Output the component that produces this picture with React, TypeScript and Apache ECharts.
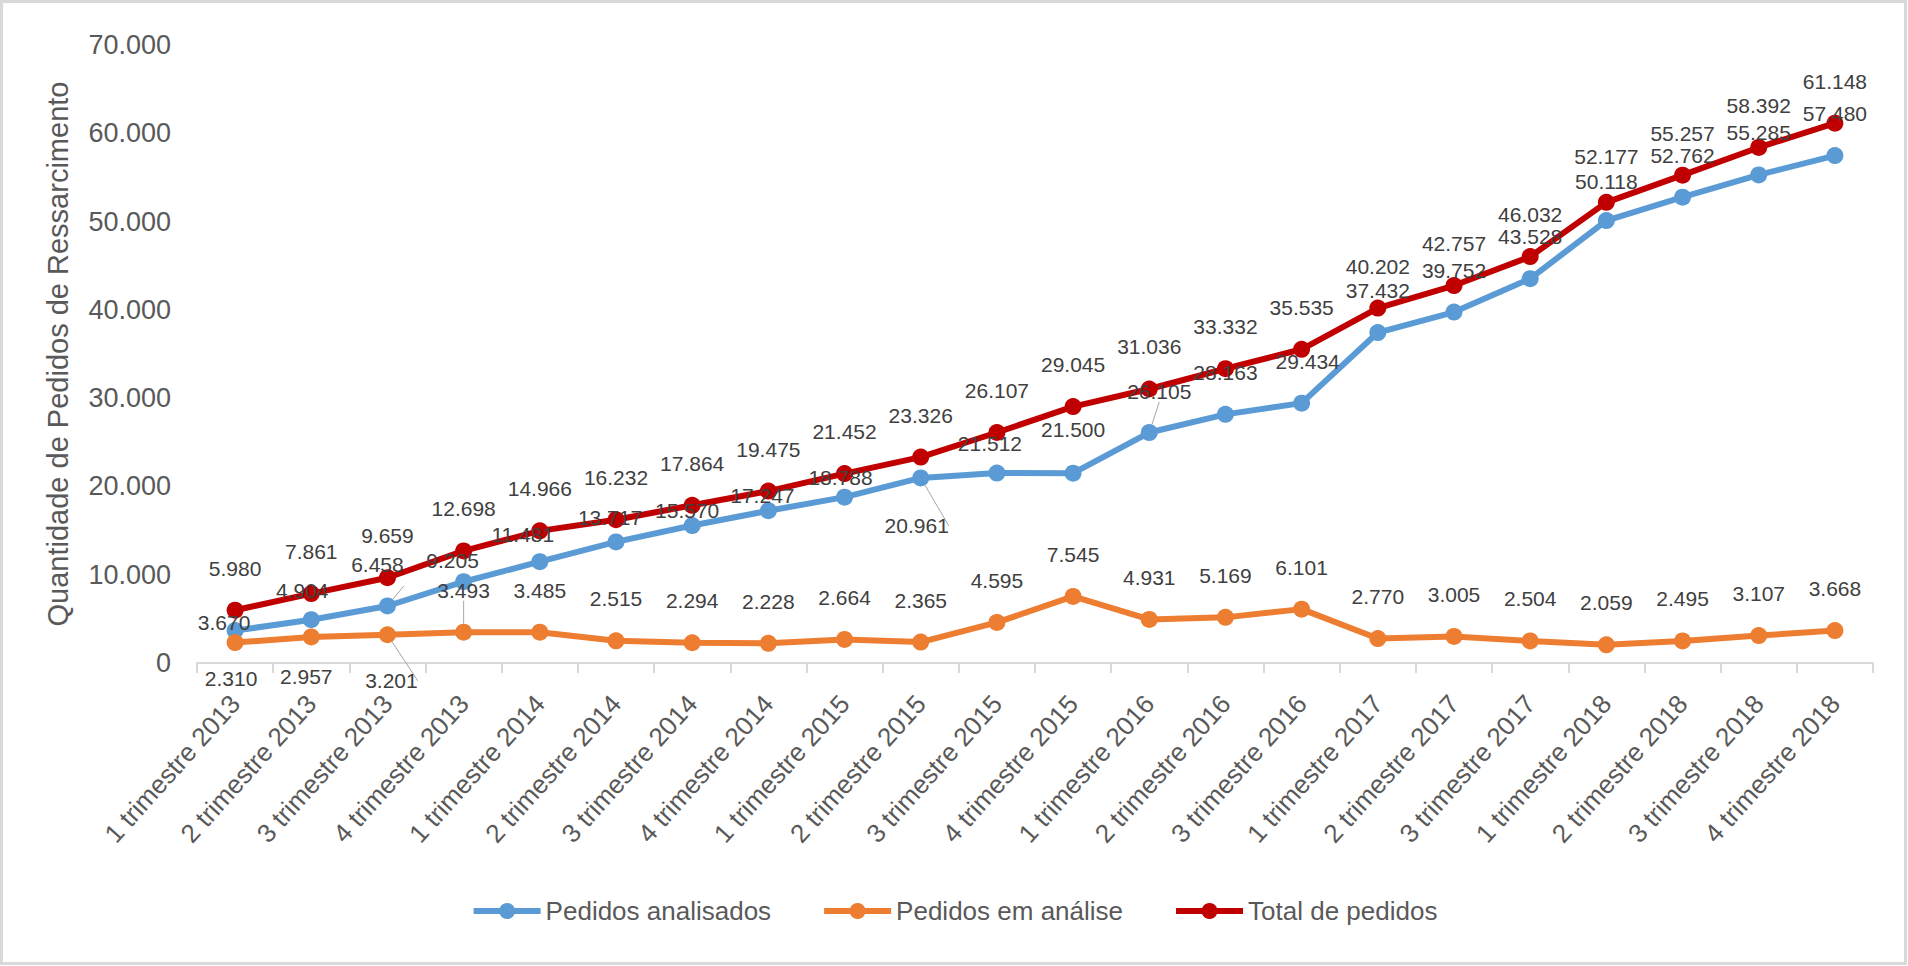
import React, { useEffect, useRef } from "react";
import * as echarts from "echarts";

const categories = [
  "1 trimestre 2013", "2 trimestre 2013", "3 trimestre 2013", "4 trimestre 2013",
  "1 trimestre 2014", "2 trimestre 2014", "3 trimestre 2014", "4 trimestre 2014",
  "1 trimestre 2015", "2 trimestre 2015", "3 trimestre 2015", "4 trimestre 2015",
  "1 trimestre 2016", "2 trimestre 2016", "3 trimestre 2016",
  "1 trimestre 2017", "2 trimestre 2017", "3 trimestre 2017",
  "1 trimestre 2018", "2 trimestre 2018", "3 trimestre 2018", "4 trimestre 2018",
];

const pedidosAnalisados = [
  3670, 4904, 6458, 9205, 11481, 13717, 15570, 17247, 18788, 20961, 21512,
  21500, 26105, 28163, 29434, 37432, 39752, 43528, 50118, 52762, 55285, 57480,
];

const pedidosEmAnalise = [
  2310, 2957, 3201, 3493, 3485, 2515, 2294, 2228, 2664, 2365, 4595,
  7545, 4931, 5169, 6101, 2770, 3005, 2504, 2059, 2495, 3107, 3668,
];

const totalPedidos = [
  5980, 7861, 9659, 12698, 14966, 16232, 17864, 19475, 21452, 23326, 26107,
  29045, 31036, 33332, 35535, 40202, 42757, 46032, 52177, 55257, 58392, 61148,
];

const seriesNames = ["Pedidos analisados", "Pedidos em análise", "Total de pedidos"];

// label placement styles (offsets in px relative to each point), kept apart from data
const blueLabelOffsets: Record<number, [number, number]> = {
  0: [-11, -8], 1: [-9, -29], 2: [-10, -41], 3: [-11, -21], 4: [-17, -27],
  5: [-6, -24], 6: [-5, -15], 7: [-6, -15], 8: [-4, -20], 9: [-4, 48],
  10: [-7, -30], 11: [0, -44], 12: [10, -41], 13: [0, -42], 14: [6, -42],
  18: [0, -39],
};
const orangeLabelOffsets: Record<number, [number, number]> = {
  0: [-4, 36], 1: [-5, 40], 2: [4, 46],
};
const redLabelOffsets: Record<number, [number, number]> = {
  18: [0, -46],
};
const defaultOffset: [number, number] = [0, -42];
// points whose labels carry a thin leader line in the reference
const blueLeaders = [2, 9, 12];
const orangeLeaders = [2, 3];

const fmt = (v: number) => {
  const s = Math.round(v).toString();
  return s.replace(/\B(?=(\d{3})+(?!\d))/g, ".");
};

const FONT = "'Liberation Sans', Arial, sans-serif";

function buildData(values: number[], offsets: Record<number, [number, number]>, leaders: number[]) {
  return values.map((v, i) => ({
    value: v,
    label: { offset: offsets[i] || defaultOffset },
    labelLine: {
      show: leaders.indexOf(i) >= 0,
      lineStyle: { color: "#a6a6a6", width: 1 },
    },
  }));
}

export default function App() {
  const ref = useRef<HTMLDivElement>(null);
  useEffect(() => {
    if (!ref.current) return;
    const chart = echarts.init(ref.current, null, { renderer: "svg" });
    const labelBase = {
      show: true,
      position: "inside",
      color: "#404040",
      fontSize: 21,
      fontFamily: FONT,
      formatter: (p: any) => fmt(p.value),
    };
    const mk = (name: string, color: string, data: any[]) => ({
      name,
      type: "line",
      data,
      symbol: "circle",
      symbolSize: 17,
      lineStyle: { color, width: 6 },
      itemStyle: { color },
      label: labelBase,
      labelLine: { show: false, smooth: false, length2: 0 },
      emphasis: { disabled: true },
    });
    chart.setOption({
      animation: false,
      backgroundColor: "#ffffff",
      graphic: [
        {
          type: "rect",
          shape: { x: 1.5, y: 1.5, width: 1904, height: 962 },
          style: { fill: "none", stroke: "#d9d9d9", lineWidth: 3 },
          silent: true,
        },
      ],
      grid: { left: 197, right: 35, top: 45, bottom: 303 },
      legend: {
        data: seriesNames,
        left: "center",
        top: 893,
        itemWidth: 67,
        itemHeight: 20,
        itemGap: 50,
        lineStyle: { width: 6 },
        textStyle: { fontSize: 26, color: "#595959", fontFamily: FONT },
      },
      xAxis: {
        type: "category",
        data: categories,
        boundaryGap: true,
        axisLine: { lineStyle: { color: "#d9d9d9", width: 2 } },
        axisTick: { show: true, length: 10, lineStyle: { color: "#d9d9d9", width: 2 } },
        axisLabel: {
          rotate: 48,
          margin: 36,
          fontSize: 26,
          color: "#595959",
          fontFamily: FONT,
          interval: 0,
        },
        splitLine: { show: false },
      },
      yAxis: {
        type: "value",
        min: 0,
        max: 70000,
        interval: 10000,
        name: "Quantidade de Pedidos de Ressarcimento",
        nameLocation: "middle",
        nameGap: 125,
        nameTextStyle: {
          fontSize: 29,
          fontWeight: "normal",
          color: "#595959",
          fontFamily: FONT,
        },
        axisLine: { show: false },
        axisTick: { show: false },
        splitLine: { show: false },
        axisLabel: {
          margin: 26,
          fontSize: 27,
          color: "#595959",
          fontFamily: FONT,
          formatter: (v: number) => fmt(v),
        },
      },
      series: [
        mk(seriesNames[0], "#5B9BD5", buildData(pedidosAnalisados, blueLabelOffsets, blueLeaders)),
        mk(seriesNames[1], "#ED7D31", buildData(pedidosEmAnalise, orangeLabelOffsets, orangeLeaders)),
        mk(seriesNames[2], "#C00000", buildData(totalPedidos, redLabelOffsets, [])),
      ],
    });
    return () => chart.dispose();
  }, []);
  return (
    <div
      ref={ref}
      style={{ position: "fixed", left: 0, top: 0, width: 1908, height: 966 }}
    />
  );
}
